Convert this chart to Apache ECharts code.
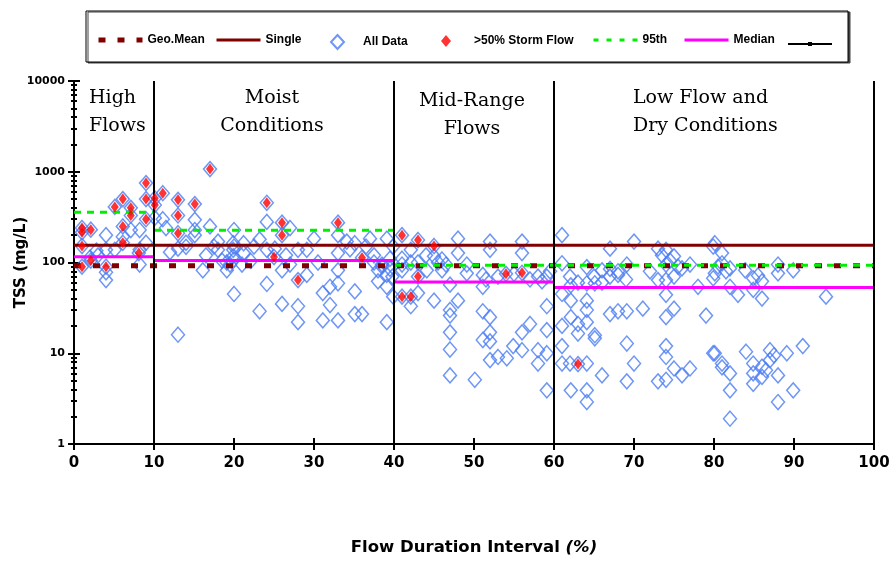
<!DOCTYPE html>
<html>
<head>
<meta charset="utf-8">
<script src="https://cdn.jsdelivr.net/npm/echarts@6/dist/echarts.min.js"></script>
<style>html,body{margin:0;padding:0;background:#fff;}#c{width:893px;height:561px;}</style>
</head>
<body>
<div id="c"></div>
<script>
// ---- Data ----
var xTicks = [0, 10, 20, 30, 40, 50, 60, 70, 80, 90, 100];
var yTicks = [1, 10, 100, 1000, 10000];
var yMinorTicks = [2,3,4,5,6,7,8,9,20,30,40,50,60,70,80,90,200,300,400,500,600,700,800,900,2000,3000,4000,5000,6000,7000,8000,9000];
var zoneBounds = [10, 40, 60, 100];
var zoneNames = ['High\nFlows', 'Moist\nConditions', 'Mid-Range\nFlows', 'Low Flow and\nDry Conditions'];

var geoMean = 92;
var single = 155;
// [fromPct, toPct, value]
var pct95 = [[0, 10, 357], [10, 40, 226], [40, 60, 93], [60, 100, 93]];
var median = [[0, 10, 116], [10, 40, 105], [40, 60, 61], [60, 100, 53]];

// samples with >50% storm flow  [flow %, TSS mg/L]
var stormFlow = [
  [1,240],[1,215],[2.1,230],[1,152],[1,90],[2.1,105],[4,90],[5.1,410],[6.1,500],[6.1,250],
  [6.1,165],[7.1,400],[7.1,330],[8.1,127],[9,750],[9,500],[9,300],[10.1,510],[10.1,430],[11.1,580],
  [13,490],[13,330],[13,210],[15.1,440],[17,1070],[24.1,455],[26,275],[26,200],[25,115],[28,64],
  [33,275],[36,113],[41,200],[43,177],[45,152],[43,70],[41,42],[42.1,42],[54,75],[56,77],[63,7.6]
];
// other samples [flow %, TSS mg/L]
var otherHigh = [
  [2.8,135],[4,200],[4,138],[4,64],[4,78],[5.1,138],[6.1,192],[7.1,228],[8.2,228],[8.2,95],
  [8.2,138],[9,165],[2,113],[3,120],[10.1,310]
];
var otherMoist = [
  [11.1,300],[12,130],[13,142],[14,149],[14,165],[15.1,295],[15.1,228],[15.1,200],[17,250],[16.1,82],
  [18,170],[18,138],[19.1,82],[19.1,100],[19.9,138],[19.9,117],[19.9,163],[13,16],[16.5,120],[18.5,105],
  [19.5,95],[17.5,150],[11.5,240],
  [20,228],[20,150],[20,108],[20,45],[21.2,163],[21.2,127],[22.1,104],[23.2,180],[23.2,29],[24.1,280],
  [24.1,138],[24.1,58],[25.1,142],[26,82],[26,35],[27,240],[27,95],[28,33],[28,22],[28,138],[29.1,138],
  [29.1,73],[30,183],[31.1,46],[31.1,23],[32,54],[32,34],[33,200],[33,127],[33,82],[33,59],[33,23],
  [34.1,170],[35.1,163],[35.1,48],[35.1,27],[36,27],[37,183],[38,82],[38,62],[39.1,183],[39.1,73],
  [39.1,54],[39.1,22],[39.9,150],[39.9,42],[30.5,100],[34.5,140],[36.5,150],[37.5,120],[38.5,95],[39.5,110],
  [22.5,150],[26.5,120],[21,95],[38.5,90],[39.5,85],[39.8,70],[37.5,100]
];
var otherMid = [
  [41,95],[41,82],[41,110],[42.1,138],[42.1,33],[42.1,100],[43,100],[43,46],[44.1,82],[45,117],
  [45,38],[46,108],[46,82],[47,57],[47,30],[47,26],[47,17],[47,11],[47,5.7],[48,183],
  [48,127],[48,38],[49.1,95],[49.1,76],[50.1,5.1],[51.1,73],[51.1,54],[51.1,29],[51.1,14],[52,170],
  [52,138],[52,25],[52,17],[52,13.5],[52,8.4],[53,9.1],[54.1,8.8],[54.9,12],[56,170],[56,127],
  [56,17],[56,10.8],[57,21],[58,7.7],[58,70],[58,10.8],[59.1,33],[59.1,18],[59.1,10],[59.1,3.9],
  [59.1,70],[44,120],[45.5,100],[46.5,95],[53,70],[55,75],[57,65],[59.5,80],[51.5,65],[58.5,62]
];
var otherLow = [
  [61,200],[61,98],[62.1,56],[62.1,38],[62.1,25],[62.1,3.9],[61,20],[61,12],[61,7.7],[62,7.7],
  [63,21],[63,16.5],[64.1,89],[64.1,59],[64.1,38],[64.1,30],[64.1,22],[64.1,7.7],[64.1,3.9],[64.1,2.9],
  [65.1,59],[65.1,15.8],[65.1,14.6],[66,5.7],[66,82],[67,142],[67,70],[67,27],[68,73],[68,29],
  [69.1,95],[69.1,29],[69.1,12.8],[69.1,4.9],[70,170],[70,7.7],[71.1,31],[73,142],[73,64],[73,4.9],
  [74,138],[74,95],[74,64],[74,44],[74,25],[74,12],[74,9.1],[74,5.1],[75,117],[75,70],
  [75,31],[75,6.8],[76,5.7],[76,86],[77,95],[77,6.8],[78,54],[79,26],[79.9,150],[79.9,10],
  [79.9,67],[63,60],[65,70],[66,60],[67,85],[68,80],[69,65],[72,80],[74.5,105],[75.5,90],
  [73.5,120],[62,70],[61,45],
  [80.1,163],[81,127],[80.1,76],[81,98],[82,86],[82,54],[83,44],[83.9,82],[84.9,67],[84.9,50],
  [86,62],[86,40],[88,95],[88,76],[89.9,82],[94,42],[80.1,10],[81,7.7],[81,7],[82,6],
  [82,3.9],[82,1.9],[84,10.4],[84.9,7.7],[84.9,6],[84.9,4.6],[86,7.1],[86,5.5],[87,10.8],[87,8.4],
  [88,5.7],[88,2.9],[89.1,10],[89.9,3.9],[91.1,12],[80.5,90],[81.5,80],[85.5,72],[86.5,6.5],[87.5,9.5]
];

// ---- Chart ----
var FONT = 'DejaVu Sans';
var LFONT = 'Liberation Sans';
var allData = stormFlow.concat(otherHigh, otherMoist, otherMid, otherLow);

var series = [];
series.push({
  name: 'Geo.Mean', type: 'line', symbol: 'none', z: 3,
  data: [[0, geoMean], [100, geoMean]],
  itemStyle: { color: '#800000' },
  lineStyle: { color: '#800000', width: 5, type: [7, 12] }
});
series.push({
  name: 'Single', type: 'line', symbol: 'none', z: 3,
  data: [[0, single], [100, single]],
  itemStyle: { color: '#800000' },
  lineStyle: { color: '#800000', width: 3 }
});
series.push({
  name: 'All Data', type: 'scatter', symbol: 'diamond', symbolSize: [13, 15], z: 2,
  data: allData,
  itemStyle: { color: 'rgba(255,255,255,0)', borderColor: '#4a7cf2', borderWidth: 1.5 },
  markLine: {
    silent: true, symbol: 'none', label: { show: false },
    lineStyle: { color: '#000', width: 2, type: 'solid' },
    data: zoneBounds.map(function (b) { return { xAxis: b }; })
  }
});
series.push({
  name: '>50% Storm Flow', type: 'scatter', symbol: 'diamond', symbolSize: [8, 11], z: 5,
  data: stormFlow,
  itemStyle: { color: '#ff0000' }
});
pct95.forEach(function (s) {
  series.push({
    name: '95th', type: 'line', symbol: 'none', z: 4,
    data: [[s[0], s[2]], [s[1], s[2]]],
    itemStyle: { color: '#00ee00' },
    lineStyle: { color: '#00ee00', width: 3, type: [7, 6] }
  });
});
median.forEach(function (s) {
  series.push({
    name: 'Median', type: 'line', symbol: 'none', z: 3,
    data: [[s[0], s[2]], [s[1], s[2]]],
    itemStyle: { color: '#ff00ff' },
    lineStyle: { color: '#ff00ff', width: 3 }
  });
});
series.push({
  name: ' ', type: 'line', symbol: 'rect', symbolSize: [8, 4], data: [],
  itemStyle: { color: '#000' }, lineStyle: { color: '#000', width: 1 }
});

function leg(name, left, opts) {
  var o = {
    data: [name], left: left, top: 29, itemWidth: 44, itemHeight: 14, z: 10,
    textStyle: { fontFamily: LFONT, fontWeight: 'bold', fontSize: 12, color: '#000' },
    selectedMode: false
  };
  for (var k in opts) o[k] = opts[k];
  return o;
}

var yBase = { type: 'log', logBase: 10, min: 1, max: 10000, gridIndex: 0, splitLine: { show: false } };
function yAx(extra) { var o = {}; for (var k in yBase) o[k] = yBase[k]; for (var k2 in extra) o[k2] = extra[k2]; return o; }
var xBase = { type: 'value', min: 0, max: 100, interval: 10, splitLine: { show: false } };
function xAx(extra) { var o = {}; for (var k in xBase) o[k] = xBase[k]; for (var k2 in extra) o[k2] = extra[k2]; return o; }

var option = {
  animation: false,
  backgroundColor: '#fff',
  grid: { left: 74, right: 19, top: 81, bottom: 117, containLabel: false, outerBoundsMode: 'none' },
  legend: [
    leg('Geo.Mean', 91, { itemStyle: { opacity: 0 }, lineStyle: { color: '#800000', width: 5, type: [7, 12] } }),
    leg('Single', 210, { itemStyle: { opacity: 0 }, lineStyle: { color: '#800000', width: 3 } }),
    leg('All Data', 325, { itemWidth: 13, itemHeight: 14, textStyle: { fontFamily: LFONT, fontWeight: 'bold', fontSize: 12, color: '#000', padding: [0, 0, 0, 14] } }),
    leg('>50% Storm Flow', 436, { itemWidth: 10, itemHeight: 12, top: 30, textStyle: { fontFamily: LFONT, fontWeight: 'bold', fontSize: 12, color: '#000', padding: [0, 0, 0, 18] } }),
    leg('95th', 587, { itemStyle: { opacity: 0 }, lineStyle: { color: '#00ee00', width: 3, type: [5, 8] } }),
    leg('Median', 678, { itemStyle: { opacity: 0 }, lineStyle: { color: '#ff00ff', width: 3 } }),
    leg(' ', 782, { itemHeight: 5, top: 33 })
  ],
  xAxis: [
    xAx({
      position: 'bottom',
      axisLine: { lineStyle: { color: '#000', width: 2 } },
      axisTick: { show: true, length: 6, lineStyle: { color: '#000', width: 2 } },
      axisLabel: { margin: 12, fontFamily: FONT, fontWeight: 'bold', fontSize: 15, color: '#000' },
      name: '{a|Flow Duration Interval }{b|(%)}',
      nameLocation: 'middle', nameGap: 95,
      nameTextStyle: {
        rich: {
          a: { fontFamily: FONT, fontWeight: 'bold', fontSize: 16.5, color: '#000' },
          b: { fontFamily: FONT, fontWeight: 'bold', fontStyle: 'italic', fontSize: 16.5, color: '#000' }
        }
      }
    }),
    xAx({
      position: 'bottom',
      axisLine: { show: false },
      axisTick: { show: true, inside: true, length: 6, lineStyle: { color: '#000', width: 2 } },
      axisLabel: { show: false }
    })
  ],
  yAxis: [
    yAx({
      position: 'left',
      axisLine: { show: true, lineStyle: { color: '#000', width: 2 } },
      axisTick: { show: true, length: 6, lineStyle: { color: '#000', width: 2 } },
      axisLabel: { margin: 9, fontFamily: FONT, fontWeight: 'bold', fontSize: 11, color: '#000',
        customValues: yTicks, formatter: function (v) { return String(v); } },
      name: 'TSS (mg/L)', nameLocation: 'middle', nameGap: 45, nameRotate: 90, nameMoveOverlap: false,
      nameTextStyle: { fontFamily: FONT, fontWeight: 'bold', fontSize: 15, color: '#000' }
    }),
    yAx({
      position: 'left',
      axisLine: { show: false },
      axisTick: { show: true, inside: true, length: 6, lineStyle: { color: '#000', width: 2 } },
      axisLabel: { show: false }
    }),
    yAx({
      position: 'left',
      axisLine: { show: false },
      axisTick: { show: true, length: 3, customValues: yMinorTicks, lineStyle: { color: '#000', width: 2 } },
      axisLabel: { show: false }
    }),
    yAx({
      position: 'left',
      axisLine: { show: false },
      axisTick: { show: true, inside: true, length: 3, customValues: yMinorTicks, lineStyle: { color: '#000', width: 2 } },
      axisLabel: { show: false }
    })
  ],
  graphic: [
    { type: 'rect', z: 0, shape: { x: 86, y: 11, width: 762, height: 51 },
      style: { fill: '#fff', stroke: '#000', lineWidth: 1, shadowColor: '#444', shadowOffsetX: 2, shadowOffsetY: 1, shadowBlur: 0 } },
    { type: 'text', z: 10, x: 89, y: 84, style: { text: zoneNames[0], fontFamily: 'DejaVu Serif', fontSize: 19, lineHeight: 28, fill: '#000', align: 'left', verticalAlign: 'top' } },
    { type: 'text', z: 10, x: 272, y: 84, style: { text: zoneNames[1], fontFamily: 'DejaVu Serif', fontSize: 19, lineHeight: 28, fill: '#000', align: 'center', verticalAlign: 'top' } },
    { type: 'text', z: 10, x: 472, y: 87, style: { text: zoneNames[2], fontFamily: 'DejaVu Serif', fontSize: 19, lineHeight: 28, fill: '#000', align: 'center', verticalAlign: 'top' } },
    { type: 'text', z: 10, x: 633, y: 84, style: { text: zoneNames[3], fontFamily: 'DejaVu Serif', fontSize: 19, lineHeight: 28, fill: '#000', align: 'left', verticalAlign: 'top' } }
  ],
  series: series
};

var chart = echarts.init(document.getElementById('c'), null, { renderer: 'canvas' });
chart.setOption(option);
</script>
</body>
</html>
